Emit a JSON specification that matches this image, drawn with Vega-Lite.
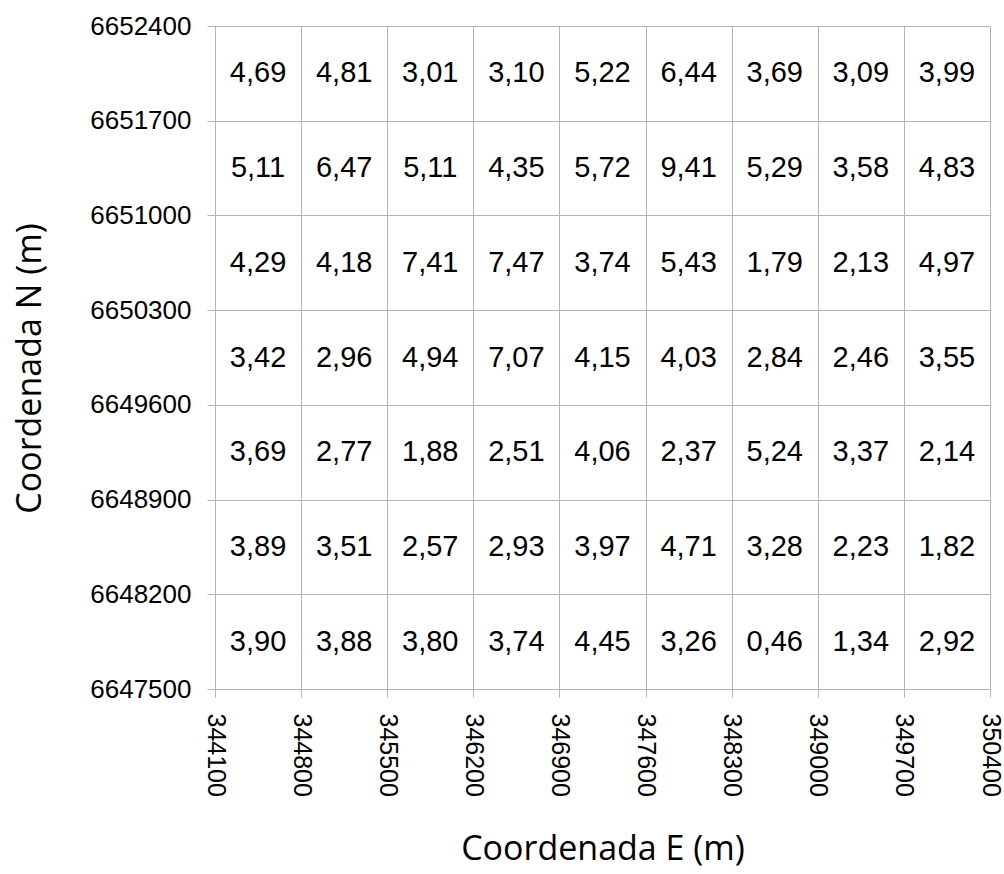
{
  "$schema": "https://vega.github.io/schema/vega-lite/v6.json",
  "width": 775,
  "height": 663,
  "autosize": {"type": "none"},
  "padding": {"left": 215, "top": 26, "right": 14, "bottom": 185},
  "background": "white",
  "config": {"view": {"stroke": null}},
  "data": {"values": [
    {"e": 344450, "n": 6652050, "v": "4,69"}, {"e": 345150, "n": 6652050, "v": "4,81"}, {"e": 345850, "n": 6652050, "v": "3,01"}, {"e": 346550, "n": 6652050, "v": "3,10"}, {"e": 347250, "n": 6652050, "v": "5,22"}, {"e": 347950, "n": 6652050, "v": "6,44"}, {"e": 348650, "n": 6652050, "v": "3,69"}, {"e": 349350, "n": 6652050, "v": "3,09"}, {"e": 350050, "n": 6652050, "v": "3,99"},
    {"e": 344450, "n": 6651350, "v": "5,11"}, {"e": 345150, "n": 6651350, "v": "6,47"}, {"e": 345850, "n": 6651350, "v": "5,11"}, {"e": 346550, "n": 6651350, "v": "4,35"}, {"e": 347250, "n": 6651350, "v": "5,72"}, {"e": 347950, "n": 6651350, "v": "9,41"}, {"e": 348650, "n": 6651350, "v": "5,29"}, {"e": 349350, "n": 6651350, "v": "3,58"}, {"e": 350050, "n": 6651350, "v": "4,83"},
    {"e": 344450, "n": 6650650, "v": "4,29"}, {"e": 345150, "n": 6650650, "v": "4,18"}, {"e": 345850, "n": 6650650, "v": "7,41"}, {"e": 346550, "n": 6650650, "v": "7,47"}, {"e": 347250, "n": 6650650, "v": "3,74"}, {"e": 347950, "n": 6650650, "v": "5,43"}, {"e": 348650, "n": 6650650, "v": "1,79"}, {"e": 349350, "n": 6650650, "v": "2,13"}, {"e": 350050, "n": 6650650, "v": "4,97"},
    {"e": 344450, "n": 6649950, "v": "3,42"}, {"e": 345150, "n": 6649950, "v": "2,96"}, {"e": 345850, "n": 6649950, "v": "4,94"}, {"e": 346550, "n": 6649950, "v": "7,07"}, {"e": 347250, "n": 6649950, "v": "4,15"}, {"e": 347950, "n": 6649950, "v": "4,03"}, {"e": 348650, "n": 6649950, "v": "2,84"}, {"e": 349350, "n": 6649950, "v": "2,46"}, {"e": 350050, "n": 6649950, "v": "3,55"},
    {"e": 344450, "n": 6649250, "v": "3,69"}, {"e": 345150, "n": 6649250, "v": "2,77"}, {"e": 345850, "n": 6649250, "v": "1,88"}, {"e": 346550, "n": 6649250, "v": "2,51"}, {"e": 347250, "n": 6649250, "v": "4,06"}, {"e": 347950, "n": 6649250, "v": "2,37"}, {"e": 348650, "n": 6649250, "v": "5,24"}, {"e": 349350, "n": 6649250, "v": "3,37"}, {"e": 350050, "n": 6649250, "v": "2,14"},
    {"e": 344450, "n": 6648550, "v": "3,89"}, {"e": 345150, "n": 6648550, "v": "3,51"}, {"e": 345850, "n": 6648550, "v": "2,57"}, {"e": 346550, "n": 6648550, "v": "2,93"}, {"e": 347250, "n": 6648550, "v": "3,97"}, {"e": 347950, "n": 6648550, "v": "4,71"}, {"e": 348650, "n": 6648550, "v": "3,28"}, {"e": 349350, "n": 6648550, "v": "2,23"}, {"e": 350050, "n": 6648550, "v": "1,82"},
    {"e": 344450, "n": 6647850, "v": "3,90"}, {"e": 345150, "n": 6647850, "v": "3,88"}, {"e": 345850, "n": 6647850, "v": "3,80"}, {"e": 346550, "n": 6647850, "v": "3,74"}, {"e": 347250, "n": 6647850, "v": "4,45"}, {"e": 347950, "n": 6647850, "v": "3,26"}, {"e": 348650, "n": 6647850, "v": "0,46"}, {"e": 349350, "n": 6647850, "v": "1,34"}, {"e": 350050, "n": 6647850, "v": "2,92"}
  ]},
  "mark": {"type": "text", "font": "Liberation Sans", "fontSize": 29, "fill": "black", "align": "center", "baseline": "middle", "letterSpacing": -2.5},
  "encoding": {
    "x": {
      "field": "e", "type": "quantitative",
      "scale": {"domain": [344100, 350400], "nice": false, "zero": false},
      "axis": {
        "title": "Coordenada E (m)",
        "values": [344100, 344800, 345500, 346200, 346900, 347600, 348300, 349000, 349700, 350400],
        "format": "d",
        "domain": false,
        "grid": true, "gridColor": "#b3b3b3", "gridOpacity": 1, "gridWidth": 1,
        "ticks": true, "tickColor": "#b3b3b3", "tickSize": 8,
        "labelAngle": 90, "labelAlign": "left", "labelBaseline": "middle",
        "labelFont": "Liberation Sans", "labelFontSize": 25, "labelColor": "black", "labelPadding": 16,
        "labelOverlap": false, "labelFlush": false,
        "titleFont": "Open Sans", "titleFontSize": 34, "titleFontWeight": "normal", "titleColor": "black",
        "titleY": 160, "titleBaseline": "middle"
      }
    },
    "y": {
      "field": "n", "type": "quantitative",
      "scale": {"domain": [6647500, 6652400], "nice": false, "zero": false},
      "axis": {
        "title": "Coordenada N (m)",
        "values": [6647500, 6648200, 6648900, 6649600, 6650300, 6651000, 6651700, 6652400],
        "format": "d",
        "domain": false,
        "grid": true, "gridColor": "#b3b3b3", "gridOpacity": 1, "gridWidth": 1,
        "ticks": true, "tickColor": "#b3b3b3", "tickSize": 8,
        "labelFont": "Liberation Sans", "labelFontSize": 26, "labelColor": "black", "labelPadding": 16,
        "labelOverlap": false, "labelFlush": false,
        "titleFont": "Open Sans", "titleFontSize": 34, "titleFontWeight": "normal", "titleColor": "black",
        "titleX": -185, "titleY": 342, "titleAngle": -90, "titleBaseline": "middle"
      }
    },
    "text": {"field": "v", "type": "nominal"}
  }
}
